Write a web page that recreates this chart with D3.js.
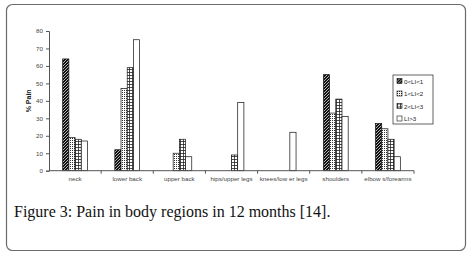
<!DOCTYPE html>
<html>
<head>
<meta charset="utf-8">
<script src="https://cdn.jsdelivr.net/npm/d3@7"></script>
<style>
  html, body { margin: 0; padding: 0; background: #fff; }
  svg { display: block; }
</style>
</head>
<body>
<div id="chart"></div>
<script>
// body regions on the x axis
var regions = ['neck', 'lower back', 'upper back', 'hips/upper legs', 'knees/low er legs', 'shoulders', 'elbow s/forearms'];
var seriesNames = ['0<LI<1', '1<LI<2', '2<LI<3', 'LI>3'];

// % pain per region, one array per LI group
var li01 = [64, 12, 0, 0, 0, 55, 27];
var li12 = [19, 47, 10, 0, 0, 33, 24];
var li23 = [18, 59, 18, 9, 0, 41, 18];
var li3  = [17, 75, 8, 39, 22, 31, 8];

var yTicks = [0, 10, 20, 30, 40, 50, 60, 70, 80];

var width = 473, height = 254;
var svg = d3.select('#chart').append('svg')
    .attr('width', width)
    .attr('height', height);

// outer frame
svg.append('rect')
    .attr('x', 6.5).attr('y', 4.5)
    .attr('width', 459).attr('height', 246)
    .attr('rx', 6).attr('ry', 6)
    .attr('fill', '#fff')
    .attr('stroke', '#6b6b6b')
    .attr('stroke-width', 1.2);

// fill patterns
var defs = svg.append('defs');

var p1 = defs.append('pattern').attr('id', 'pDiag')
    .attr('patternUnits', 'userSpaceOnUse').attr('width', 3).attr('height', 3);
p1.append('rect').attr('width', 3).attr('height', 3).attr('fill', '#111');
p1.append('path').attr('d', 'M-1,1 L1,-1 M0,3 L3,0 M2,4 L4,2')
    .attr('stroke', '#fff').attr('stroke-width', 0.7);

var p2 = defs.append('pattern').attr('id', 'pDots')
    .attr('patternUnits', 'userSpaceOnUse').attr('width', 2).attr('height', 2);
p2.append('rect').attr('width', 2).attr('height', 2).attr('fill', '#fff');
p2.append('rect').attr('x', 0).attr('y', 0).attr('width', 1).attr('height', 1).attr('fill', '#333');

var p3 = defs.append('pattern').attr('id', 'pGrid')
    .attr('patternUnits', 'userSpaceOnUse').attr('width', 3).attr('height', 3);
p3.append('rect').attr('width', 3).attr('height', 3).attr('fill', '#fff');
p3.append('path').attr('d', 'M0,0.5 H3 M0.5,0 V3')
    .attr('stroke', '#222').attr('stroke-width', 0.8);

var fills = ['url(#pDiag)', 'url(#pDots)', 'url(#pGrid)', '#fff'];

var plot = {left: 49, right: 414, top: 31, bottom: 170.7};

var x0 = d3.scaleBand()
    .domain(regions)
    .range([plot.left, plot.right]);

var groupW = 24.8;
var x1 = d3.scaleBand()
    .domain(seriesNames)
    .range([x0.bandwidth() / 2 - groupW / 2, x0.bandwidth() / 2 + groupW / 2]);

var y = d3.scaleLinear()
    .domain([0, 80])
    .range([plot.bottom, plot.top]);

var series = [li01, li12, li23, li3];
var rows = [];
series.forEach(function(vals, s) {
    vals.forEach(function(v, i) {
        rows.push({region: regions[i], name: seriesNames[s], s: s, value: v});
    });
});

svg.append('g').selectAll('rect')
    .data(rows.filter(function(d) { return d.value > 0; }))
    .enter().append('rect')
    .attr('x', function(d) { return x0(d.region) + x1(d.name); })
    .attr('y', function(d) { return y(d.value); })
    .attr('width', x1.bandwidth())
    .attr('height', function(d) { return y(0) - y(d.value); })
    .attr('fill', function(d) { return fills[d.s]; })
    .attr('stroke', '#111')
    .attr('stroke-width', 0.7);

// y axis
var yAxis = svg.append('g')
    .attr('transform', 'translate(' + plot.left + ',0)')
    .call(d3.axisLeft(y).tickValues(yTicks).tickSize(3).tickPadding(3));
yAxis.selectAll('text')
    .attr('font-family', 'Liberation Sans, Arial, sans-serif')
    .attr('font-size', 6.2)
    .attr('fill', '#444');

// x axis, ticks at the category boundaries
var xAxis = svg.append('g')
    .attr('transform', 'translate(0,' + plot.bottom + ')');
xAxis.append('line')
    .attr('x1', plot.left).attr('x2', plot.right)
    .attr('stroke', '#555');
xAxis.selectAll('.tk')
    .data(regions)
    .enter().append('line')
    .attr('class', 'tk')
    .attr('x1', function(d) { return x0(d) + x0.bandwidth(); })
    .attr('x2', function(d) { return x0(d) + x0.bandwidth(); })
    .attr('y1', 0).attr('y2', 3)
    .attr('stroke', '#555');
xAxis.selectAll('.lbl')
    .data(regions)
    .enter().append('text')
    .attr('class', 'lbl')
    .attr('x', function(d) { return x0(d) + x0.bandwidth() / 2; })
    .attr('y', 10.5)
    .attr('text-anchor', 'middle')
    .attr('font-family', 'Liberation Sans, Arial, sans-serif')
    .attr('font-size', 6.2)
    .attr('fill', '#444')
    .text(function(d) { return d; });

yAxis.select('.domain').attr('stroke', '#555');
yAxis.selectAll('.tick line').attr('stroke', '#555');

// y title
svg.append('text')
    .attr('transform', 'translate(31,' + ((plot.top + plot.bottom) / 2) + ') rotate(-90)')
    .attr('text-anchor', 'middle')
    .attr('font-family', 'Liberation Sans, Arial, sans-serif')
    .attr('font-weight', 'bold')
    .attr('font-size', 7)
    .attr('fill', '#222')
    .text('% Pain');

// legend
var lg = svg.append('g').attr('transform', 'translate(393,75)');
lg.append('rect')
    .attr('width', 40).attr('height', 49)
    .attr('fill', '#fff')
    .attr('stroke', '#222')
    .attr('stroke-width', 0.7);
var item = lg.selectAll('.item')
    .data(seriesNames)
    .enter().append('g')
    .attr('class', 'item')
    .attr('transform', function(d, i) { return 'translate(4,' + (3.5 + i * 12.5) + ')'; });
item.append('rect')
    .attr('width', 5).attr('height', 5)
    .attr('fill', function(d, i) { return fills[i]; })
    .attr('stroke', '#111')
    .attr('stroke-width', 0.6);
item.append('text')
    .attr('x', 7).attr('y', 5)
    .attr('font-family', 'Liberation Sans, Arial, sans-serif')
    .attr('font-size', 6.2)
    .attr('fill', '#222')
    .text(function(d) { return d; });

// caption
svg.append('text')
    .attr('x', 14).attr('y', 217)
    .attr('font-family', 'Liberation Serif, Times New Roman, serif')
    .attr('font-size', 16)
    .attr('fill', '#111')
    .text('Figure 3: Pain in body regions in 12 months [14].');
</script>
</body>
</html>
